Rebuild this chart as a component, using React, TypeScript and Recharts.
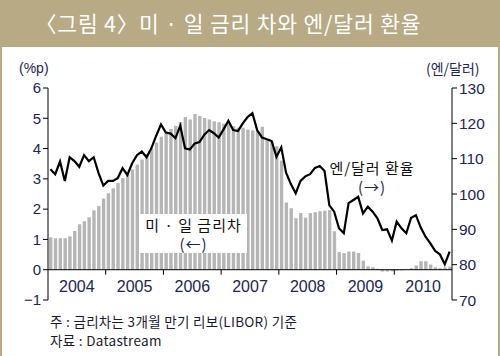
import {
  ComposedChart,
  Bar,
  Line,
  XAxis,
  YAxis,
  ReferenceLine,
} from 'recharts';

// monthly, Jan 2004 .. Dec 2010
const YEARS = ['2004', '2005', '2006', '2007', '2008', '2009', '2010'];

// 미·일 금리차 (%p, left axis)
const RATE_GAP = [
  1.07, 1.04, 1.04, 1.04, 1.1, 1.28, 1.5, 1.6, 1.73, 1.96, 2.1, 2.35,
  2.52, 2.69, 2.86, 3.03, 3.16, 3.31, 3.47, 3.64, 3.82, 4.0, 4.2, 4.39,
  4.56, 4.65, 4.75, 4.88, 5.04, 4.96, 5.14, 5.08, 5.01, 4.96, 4.9, 4.87,
  4.82, 4.8, 4.74, 4.69, 4.69, 4.63, 4.6, 4.58, 4.72, 4.3, 4.24, 4.08,
  3.6, 2.22, 2.03, 1.7, 1.87, 1.72, 1.87, 1.9, 1.93, 1.95, 1.97, 1.27,
  0.58, 0.55, 0.6, 0.6, 0.55, 0.3, 0.11, 0.08, 0.03, -0.06, -0.06, -0.05,
  -0.03, -0.02, 0.01, 0.05, 0.14, 0.28, 0.28, 0.17, 0.08, 0.05, 0.08, 0.1,
];

// 엔/달러 환율 (right axis)
const YEN_DOLLAR = [
  107, 105.6, 109.2, 103.7, 110.4, 109.3, 107.7, 111, 109.3, 110.4, 106, 102.4,
  103.7, 103.7, 104.5, 107.3, 105.4, 108.7, 111, 112, 110.4, 113, 116.5, 119.7,
  117.4, 117.1, 115.8, 119.3, 112.9, 112.6, 114.3, 114.7, 116.8, 118.1, 117.2, 116,
  118.3, 120.7, 118.1, 117.8, 120, 121.8, 122.9, 118, 116, 115.5, 115, 110.5,
  113.2, 106, 102.8, 100.2, 103.7, 105, 105.6, 107.4, 107.9, 106.5, 96.8, 95,
  90.3, 88.9, 97.4, 98.3, 99.2, 94.5, 96.4, 95, 93.1, 89.8, 90, 86.8,
  92.2, 90.3, 88.9, 93.3, 94, 90.5, 87.9, 86, 83.9, 82.9, 80.1, 83.7,
];

const LEFT_TICKS = [-1, 0, 1, 2, 3, 4, 5, 6];
const RIGHT_TICKS = [70, 80, 90, 100, 110, 120, 130];
const YEAR_TICKS = [0, 12, 24, 36, 48, 60, 72, 84];

const data = RATE_GAP.map((gap, i) => ({ t: i + 0.5, gap, yen: YEN_DOLLAR[i] }));

const TAN = '#b8aa85';
const INK = '#1e2550';
const W = 500;
const H = 356;
const PLOT_TOP = 88;
const PLOT_BOTTOM = 300;
const PLOT_LEFT = 48;
const PLOT_RIGHT = 452;
const ZERO_Y = PLOT_TOP + ((PLOT_BOTTOM - PLOT_TOP) * 6) / 7;
const HALF_YEAR = (PLOT_RIGHT - PLOT_LEFT) / 14;

const numFont = '"Liberation Sans", Arial, sans-serif';
const krFont = '"Noto Sans CJK KR", "Noto Sans", sans-serif';

function YearTick(props: any) {
  const { x, payload } = props;
  const v = payload.value;
  const inner = v > 0 && v < 84;
  return (
    <g>
      {inner && <line x1={x} x2={x} y1={ZERO_Y} y2={ZERO_Y + 5} stroke="#000" />}
      {v < 84 && (
        <text
          x={x + HALF_YEAR}
          y={ZERO_Y + 22}
          textAnchor="middle"
          fill={INK}
          fontSize={16}
          fontFamily={numFont}
        >
          {YEARS[v / 12]}
        </text>
      )}
    </g>
  );
}

export default function App() {
  return (
    <div style={{ position: 'absolute', left: 0, top: 0, width: W, height: H, background: '#fff', overflow: 'hidden' }}>
      <div
        style={{
          position: 'absolute', left: 0, top: 0, width: W, height: 47, background: TAN, whiteSpace: 'nowrap',
          color: '#fff', fontFamily: krFont, fontSize: 21.5, lineHeight: '46px', paddingLeft: 47,
          boxSizing: 'border-box', letterSpacing: 0.8,
        }}
      >
        <span style={{ marginLeft: -12 }}>〈</span>그림 4〉미 · 일 금리 차와 엔/달러 환율
      </div>
      <div style={{ position: 'absolute', left: 0, top: 0, width: 2, height: H, background: TAN }} />
      <div style={{ position: 'absolute', left: W - 2, top: 0, width: 2, height: H, background: TAN }} />

      <div style={{ position: 'absolute', left: 0, top: 0 }}>
        <ComposedChart width={W} height={H} data={data} margin={{ top: PLOT_TOP, right: 8, bottom: 26, left: 8 }}>
          <XAxis
            dataKey="t"
            type="number"
            domain={[0, 84]}
            ticks={YEAR_TICKS}
            interval={0}
            axisLine={false}
            tickLine={false}
            height={30}
            tick={<YearTick />}
          />
          <YAxis
            yAxisId="left"
            domain={[-1, 6]}
            ticks={LEFT_TICKS}
            interval={0}
            width={40}
            axisLine={{ stroke: '#000' }}
            tickLine={{ stroke: '#000' }}
            tickSize={5}
            tick={{ fill: INK, fontSize: 15, fontFamily: numFont }}
            tickFormatter={(v: number) => (v < 0 ? `\u2212${-v}` : `${v}`)}
          />
          <YAxis
            yAxisId="right"
            orientation="right"
            domain={[70, 130]}
            ticks={RIGHT_TICKS}
            interval={0}
            width={40}
            axisLine={{ stroke: '#000' }}
            tickLine={{ stroke: '#000' }}
            tickSize={5}
            tick={{ fill: INK, fontSize: 15.5, fontFamily: numFont }}
          />
          <Bar yAxisId="left" dataKey="gap" fill="#b5b5b5" barSize={3.4} isAnimationActive={false} />
          <ReferenceLine yAxisId="left" y={0} stroke="#000" strokeWidth={1} />
          <Line
            yAxisId="right"
            dataKey="yen"
            type="linear"
            stroke="#000"
            strokeWidth={2.2}
            dot={false}
            isAnimationActive={false}
          />
        </ComposedChart>
      </div>

      <div style={{ position: 'absolute', left: 19, top: 60, fontFamily: numFont, fontSize: 14, color: INK }}>(%p)</div>
      <div style={{ position: 'absolute', left: 426, top: 58, fontFamily: krFont, fontSize: 14, color: INK }}>(엔/달러)</div>

      <div
        style={{
          position: 'absolute', left: 140, top: 214, width: 107, height: 39, background: '#fff',
          fontFamily: krFont, fontSize: 15, color: '#111', textAlign: 'center', lineHeight: '19px', paddingTop: 1,
          boxSizing: 'border-box', letterSpacing: 1,
        }}
      >
        <div>미 · 일 금리차</div>
        <div style={{ color: INK }}>(←)</div>
      </div>
      <div
        style={{
          position: 'absolute', left: 322, top: 158, width: 100, fontFamily: krFont, fontSize: 15, color: '#111',
          textAlign: 'center', lineHeight: '19px', letterSpacing: 1,
        }}
      >
        <div>엔/달러 환율</div>
        <div style={{ color: INK }}>(→)</div>
      </div>

      <div
        style={{
          position: 'absolute', left: 50, top: 312, fontFamily: krFont, fontSize: 13.5, color: '#1a1a30',
          lineHeight: '19px', letterSpacing: 0.3,
        }}
      >
        <div>주 : 금리차는 3개월 만기 리보(LIBOR) 기준</div>
        <div>자료 : Datastream</div>
      </div>
    </div>
  );
}
